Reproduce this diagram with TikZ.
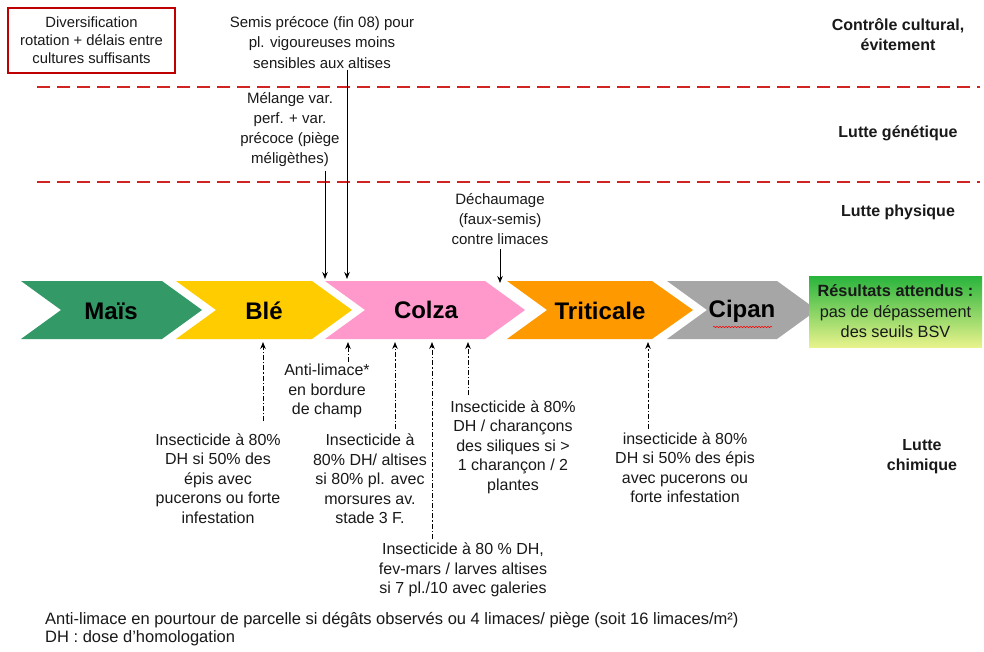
\documentclass[tikz,border=0pt]{standalone}
\usepackage{fontspec}
\setmainfont{Liberation Sans}
\usetikzlibrary{arrows.meta,decorations.pathmorphing}
\definecolor{redc}{RGB}{210,35,35}
\definecolor{boxred}{RGB}{192,0,0}
\definecolor{maisc}{RGB}{51,153,102}
\definecolor{blec}{RGB}{255,204,0}
\definecolor{colzac}{RGB}{255,153,204}
\definecolor{tritc}{RGB}{255,153,0}
\definecolor{cipanc}{RGB}{166,166,166}
\definecolor{restop}{RGB}{40,180,60}
\definecolor{resbot}{RGB}{232,243,140}
\definecolor{txt}{RGB}{25,25,25}
\tikzset{
  ann/.style={font=\fontsize{16}{19.5}\selectfont, align=center, inner sep=0pt, text=txt},
  lab/.style={font=\bfseries\fontsize{16}{20}\selectfont, align=center, inner sep=0pt, text=txt},
  chevlab/.style={font=\bfseries\fontsize{24}{28}\selectfont, inner sep=0pt, text=black},
  dnar/.style={-{Stealth[length=7pt,width=5.5pt]}, line width=0.9pt, black},
  upar/.style={-{Stealth[length=7pt,width=5.5pt]}, line width=0.9pt, black, dash pattern=on 5pt off 2pt on 1.2pt off 2pt},
  redline/.style={draw=redc, line width=2.5pt, dash pattern=on 13pt off 7pt},
  foot/.style={anchor=west, inner sep=0pt, font=\fontsize{16.5}{18}\selectfont, text=txt},
}
\newcommand{\chevron}[4]{% color, left, bodyend, tip
  \fill[#1] (#2,281) -- (#3,281) -- (#4,310) -- (#3,339) -- (#2,339) -- ({#2+40},310) -- cycle;
}
\begin{document}
\begin{tikzpicture}[x=1pt,y=-1pt]
\useasboundingbox (0,0) rectangle (984,652);
\fill[white] (0,0) rectangle (984,652);

% red dashed separators
\draw[redline] (37,87) -- (980,87);
\draw[redline] (37,182) -- (980,182);

% top-left box
\node[draw=boxred, line width=2pt, minimum width=167pt, minimum height=65pt, inner sep=0pt,
      font=\fontsize{14.8}{18}\selectfont, align=center, text=txt] (div) at (91.5,40.5)
  {Diversification\\rotation + délais entre\\cultures suffisants};

% right category labels
\node[lab] (ctrl) at (898,35) {Contrôle cultural,\\évitement};
\node[lab] (gen) at (898,133) {Lutte génétique};
\node[lab] (phys) at (898,212) {Lutte physique};
\node[lab] (chim) at (922,457) {Lutte\\chimique};

% chevrons
\chevron{maisc}{21}{162}{202}
\chevron{blec}{176}{312}{352}
\chevron{colzac}{325}{485}{525}
\chevron{tritc}{507}{652}{693}
\chevron{cipanc}{667}{777}{817}
\node[chevlab] (mais) at (111,311) {Maïs};
\node[chevlab] (ble) at (264,311) {Blé};
\node[chevlab] (colza) at (426,310) {Colza};
\node[chevlab] (trit) at (600,311) {Triticale};
\node[chevlab] (cipan) at (742,311) {Cipan};
\draw[red, line width=0.5pt, decorate, decoration={snake, amplitude=0.8pt, segment length=3pt}]
  (713,327) -- (772,327);

% result box
\node[minimum width=173pt, minimum height=71pt, inner sep=0pt, top color=restop, bottom color=resbot,
      align=center, font=\fontsize{16.3}{20.5}\selectfont, text=txt] (res) at (895.5,311.5)
  {\textbf{Résultats attendus :}\\pas de dépassement\\des seuils BSV};

% upper annotations
\node[ann, font=\fontsize{15}{20.5}\selectfont] (semis) at (322,42.5)
  {Semis précoce (fin 08) pour\\pl. vigoureuses moins\\sensibles aux altises};
\node[ann, font=\fontsize{15}{20}\selectfont] (mel) at (290,130)
  {Mélange var.\\perf. + var.\\précoce (piège\\méligèthes)};
\node[ann, font=\fontsize{15}{20}\selectfont] (dech) at (500,219)
  {Déchaumage\\(faux-semis)\\contre limaces};

\coordinate (d1) at (347,279);
\coordinate (d2) at (325,279);
\coordinate (d3) at (500,283);
\draw[dnar] ([yshift=-1pt]semis.south -| d1) -- (d1);
\draw[dnar] ([yshift=-4pt]mel.south -| d2) -- (d2);
\draw[dnar] ([yshift=-4pt]dech.south -| d3) -- (d3);

% lower annotations
\node[ann] (t1) at (218,478.5)
  {Insecticide à 80\%\\DH si 50\% des\\épis avec\\pucerons ou forte\\infestation};
\node[ann] (t2) at (327,391)
  {Anti-limace*\\en bordure\\de champ};
\node[ann] (t3) at (370,479)
  {Insecticide à\\80\% DH/ altises\\si 80\% pl. avec\\morsures av.\\stade 3 F.};
\node[ann] (t4) at (463,570)
  {Insecticide à 80 \% DH,\\fev-mars / larves altises\\si 7 pl./10 avec galeries};
\node[ann] (t5) at (513,447)
  {Insecticide à 80\%\\DH / charançons\\des siliques si >\\1 charançon / 2\\plantes};
\node[ann] (t6) at (685,467.5)
  {insecticide à 80\%\\DH si 50\% des épis\\avec pucerons ou\\forte infestation};

\coordinate (u1) at (263,342);
\coordinate (u2) at (348,342);
\coordinate (u3) at (395,342);
\coordinate (u4) at (432,342);
\coordinate (u5) at (468,342);
\coordinate (u6) at (648,342);
\draw[upar] ([yshift=12pt]t1.north -| u1) -- (u1);
\draw[upar] ([yshift=2pt]t2.north -| u2) -- (u2);
\draw[upar] ([yshift=5pt]t3.north -| u3) -- (u3);
\draw[upar] ([yshift=4pt]t4.north -| u4) -- (u4);
\draw[upar] ([yshift=5pt]t5.north -| u5) -- (u5);
\draw[upar] ([yshift=3pt]t6.north -| u6) -- (u6);

% footer
\node[foot] (f1) at (45,620)
  {Anti-limace en pourtour de parcelle si dégâts observés ou 4 limaces/ piège (soit 16 limaces/m²)};
\node[foot] (f2) at (45,638)
  {DH : dose d’homologation};
\end{tikzpicture}
\end{document}
